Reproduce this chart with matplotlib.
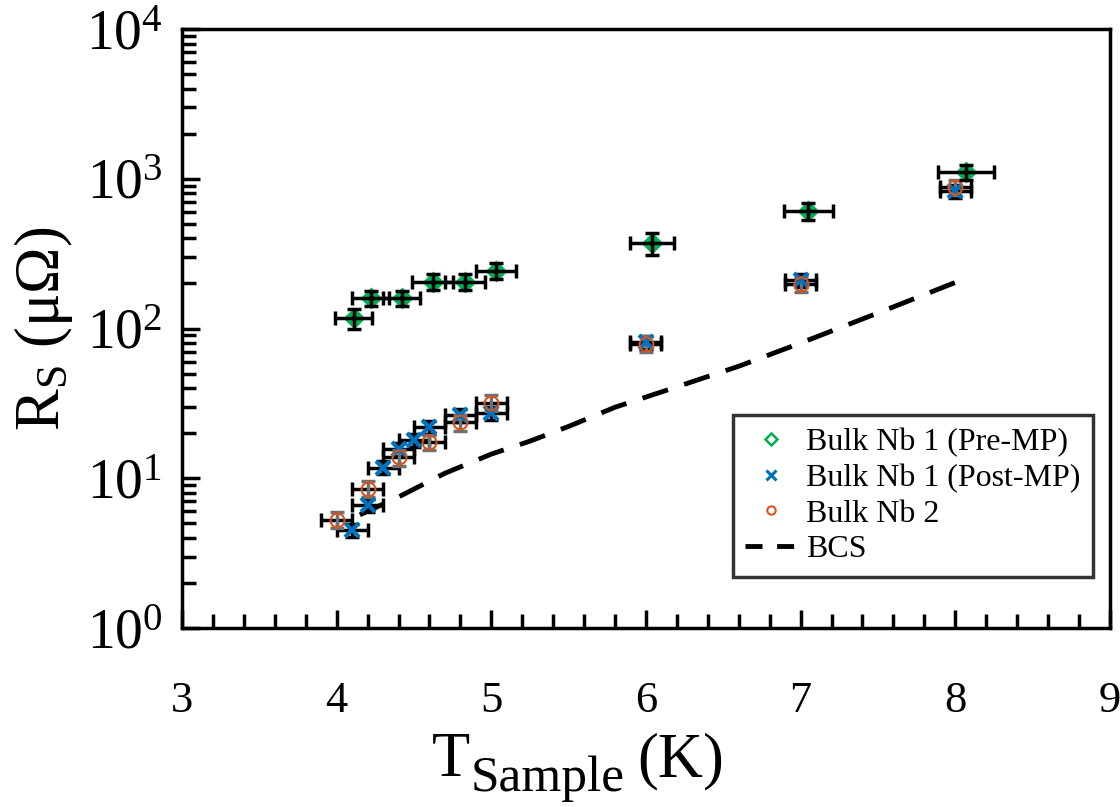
import numpy as np
import matplotlib
matplotlib.use("Agg")
import matplotlib.pyplot as plt
from matplotlib.ticker import LogLocator, MultipleLocator

plt.rcParams['font.family'] = ['Liberation Serif', 'DejaVu Serif']
plt.rcParams['mathtext.fontset'] = 'custom'
plt.rcParams['mathtext.rm'] = 'Liberation Serif'
plt.rcParams['mathtext.it'] = 'Liberation Serif:italic'

# Bulk Nb 1 (Pre-MP)
t_pre = [4.11, 4.22, 4.42, 4.62, 4.83, 5.03, 6.04, 7.05, 8.07]
r_pre = [117, 160, 160, 205, 205, 243, 374, 609, 1109]
tx_pre = [0.12, 0.12, 0.12, 0.13, 0.13, 0.13, 0.14, 0.16, 0.18]
ry_pre = [0.15, 0.12, 0.12, 0.12, 0.12, 0.12, 0.17, 0.13, 0.11]

# Bulk Nb 1 (Post-MP)
t_post = [4.1, 4.2, 4.3, 4.4, 4.5, 4.6, 4.8, 5.0, 6.0, 7.0, 8.0]
r_post = [4.5, 6.6, 11.8, 15.6, 18.0, 21.9, 26.5, 27.4, 81, 210, 830]
tx_post = [0.1] * 11
ry_post = [0.1] * 11

# Bulk Nb 2
t_nb2 = [4.0, 4.2, 4.4, 4.6, 4.8, 5.0, 6.0, 7.0, 8.0]
r_nb2 = [5.3, 8.5, 13.8, 17.5, 23.6, 32.0, 79, 198, 880]
tx_nb2 = [0.1] * 9
ry_nb2 = [0.12] * 9

# BCS
t_bcs = [4.15, 4.4, 4.7, 5.0, 5.25, 5.5, 5.8, 6.2, 6.6, 7.0, 7.5, 8.0]
r_bcs = [5.7, 7.5, 10.8, 14.5, 17.7, 22.2, 29.8, 40.8, 56, 80, 127, 203]

green = '#00B050'
blue = '#0072BD'
orange = '#D95319'

fig = plt.figure(figsize=(11.2, 8.07), dpi=100)
ax = fig.add_axes([0.1625, 0.2218, 0.8285, 0.7422])

ax.plot(t_bcs, r_bcs, '--', color='black', lw=3.5, dashes=(5.5, 3.5), label='BCS', zorder=1)

def err(r, rel):
    r = np.array(r, dtype=float)
    return r * np.array(rel)

ax.plot(t_pre, r_pre, 'D', ms=9, mfc=green, mec=green, mew=2, linestyle='none', zorder=3)
ax.errorbar(t_pre, r_pre, xerr=tx_pre, yerr=err(r_pre, ry_pre), fmt='none',
            ecolor='black', elinewidth=2.5, capsize=5, capthick=2.5, zorder=4)
ax.plot(t_pre, r_pre, 'D', ms=3, color='black', linestyle='none', zorder=5)

ax.plot(t_post, r_post, 'x', ms=10, mec=blue, mew=3, linestyle='none', zorder=3)
ax.errorbar(t_post, r_post, xerr=tx_post, yerr=err(r_post, ry_post), fmt='none',
            ecolor='black', elinewidth=2.5, capsize=5, capthick=2.5, zorder=2)

ax.errorbar(t_nb2, r_nb2, xerr=tx_nb2, fmt='none',
            ecolor='black', elinewidth=2.5, capsize=5, capthick=2.5, zorder=2)
ax.errorbar(t_nb2, r_nb2, yerr=err(r_nb2, ry_nb2), fmt='none',
            ecolor='#707070', elinewidth=2.5, capsize=5, capthick=2.5, zorder=2)
ax.plot(t_nb2, r_nb2, 'o', ms=10, mfc='none', mec=orange, mew=1.5, linestyle='none', zorder=3)

# legend handles
h1, = ax.plot([], [], 'D', ms=6, mfc='white', mec=green, mew=1.8, linestyle='none', label='Bulk Nb 1 (Pre-MP)')
h2, = ax.plot([], [], 'x', ms=7, mec=blue, mew=2.2, linestyle='none', label='Bulk Nb 1 (Post-MP)')
h3, = ax.plot([], [], 'o', ms=6, mfc='white', mec=orange, mew=1.5, linestyle='none', label='Bulk Nb 2')
h4, = ax.plot([], [], '--', color='black', lw=3.5, dashes=(3.5, 3), label='BCS')

leg = ax.legend(handles=[h1, h2, h3, h4], loc='lower right', bbox_to_anchor=(0.982, 0.085),
                borderaxespad=0, fontsize=23, frameon=True, fancybox=False,
                edgecolor='black', handlelength=1.6, handletextpad=0.3,
                labelspacing=0.2, borderpad=0.4)
leg.get_frame().set_linewidth(2.5)

ax.set_yscale('log')
ax.set_xlim(3, 9)
ax.set_ylim(1, 1e4)
ax.xaxis.set_major_locator(MultipleLocator(1))
ax.xaxis.set_minor_locator(MultipleLocator(0.2))
ax.yaxis.set_major_locator(LogLocator(base=10, numticks=10))
ax.yaxis.set_minor_locator(LogLocator(base=10, subs=np.arange(2, 10), numticks=20))
ax.tick_params(which='both', direction='in', top=False, right=False, width=2.5)
ax.tick_params(which='major', length=13)
ax.tick_params(axis='x', which='major', labelsize=32, pad=38)
ax.tick_params(axis='y', which='major', labelsize=40, pad=14)
ax.tick_params(which='minor', length=10)
for s in ax.spines.values():
    s.set_linewidth(2.5)

ax.set_ylabel(r'R$_\mathrm{S}$ (μΩ)', fontsize=45, labelpad=8)

# x label built from pieces so the subscript sits like the original
fig.text(432 / 1120, 1 - 776 / 807, 'T', fontsize=45, va='baseline')
sub = fig.text(471 / 1120, 1 - 791 / 807, 'Sample', fontsize=37, va='baseline')
fig.canvas.draw()
sub_end = sub.get_window_extent(fig.canvas.get_renderer()).x1
fig.text((sub_end + 12) / 1120, 1 - 776 / 807, '(K)', fontsize=45, va='baseline')

fig.savefig('out.png', dpi=100)
